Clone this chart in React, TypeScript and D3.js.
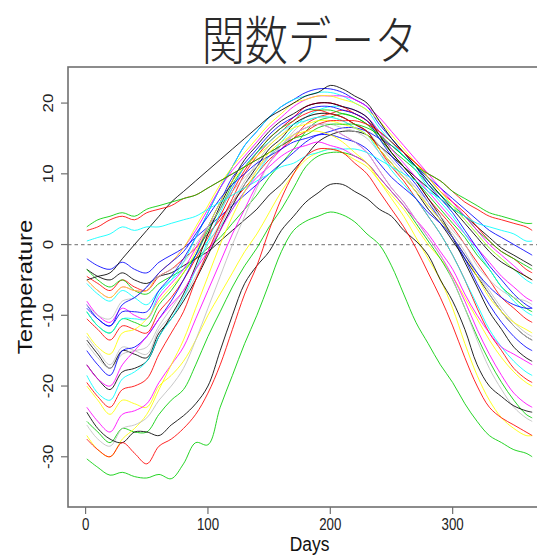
import React, { useEffect, useRef } from 'react';
import * as d3 from 'd3';

// sampled days of the year
const days = [1, 10, 20, 30, 40, 50, 60, 70, 80, 90, 100, 110, 120, 130, 140, 150, 160, 170, 180, 190,
  200, 210, 220, 230, 240, 250, 260, 270, 280, 290, 300, 310, 320, 330, 340, 350, 360, 365];

const xTicks = [0, 100, 200, 300];
const yTicks = [-30, -20, -10, 0, 10, 20];

// R default palette, cycled over stations
const palette = ['#000000', '#FF0000', '#00CD00', '#0000FF', '#00FFFF', '#FF00FF', '#FFFF00', '#BEBEBE'];

const stJohns = [-3.5, -4.5, -5, -4, -5, -5.5, -4.5, -4, -3, -2, -1, 0.5, 2, 3.5, 5, 7, 8.5, 10.5, 12.5, 14.5,
  15.5, 16, 16, 15.5, 14, 12.5, 11, 9.5, 8, 6.5, 5, 4, 2.5, 1, -0.5, -1.5, -2.5, -3];
const halifax = [-4.5, -5.5, -6.5, -5, -6, -6.5, -4.5, -3.5, -2, -0.5, 1.5, 3.5, 6, 8, 10, 12, 13.5, 15, 17, 18,
  18.5, 19, 18.5, 17.5, 16, 14.5, 13, 11.5, 9.5, 7.5, 6, 4.5, 2.5, 0.5, -1, -2, -3.5, -4];
const sydney = [-3.5, -5, -6, -5, -6.5, -7, -5.5, -4.5, -3.5, -2, -0.5, 1, 3, 5, 7, 9.5, 11.5, 13.5, 16, 17.5,
  18, 18.5, 18, 17, 15.5, 13.5, 12, 10.5, 8.5, 7, 5.5, 4, 2, 0.5, -1, -2, -3, -3.5];
const yarmouth = [-2, -3, -3.5, -2.5, -3.5, -4, -2.5, -1.5, -0.5, 1, 2.5, 4, 5.5, 7, 8.5, 10, 11.5, 13, 14.5, 15.5,
  16, 16.5, 16.5, 16, 15, 14, 12.5, 11, 9.5, 8, 6.5, 5, 3.5, 2, 1, 0, -1, -1.5];
const charlottvl = [-5.5, -7, -8, -6.5, -7.5, -8.5, -6.5, -5, -3.5, -1.5, 0.5, 2.5, 5, 7.5, 10, 12.5, 14.5, 16.5, 18, 19,
  19.5, 19.5, 19, 18, 16, 14.5, 12.5, 11, 9, 7, 5.5, 3.5, 1.5, -0.5, -2, -3.5, -5, -5.5];
const fredericton = [-8, -10, -11, -9, -10, -10.5, -7.5, -5.5, -3.5, -0.5, 2.5, 5, 8, 11, 13, 15, 16.5, 18, 19.5, 20,
  20, 19.5, 19, 18, 16, 13.5, 11.5, 9.5, 7.5, 5.5, 3.5, 1.5, -0.5, -2.5, -4.5, -6, -7.5, -8];
const scheffervll = [-20, -22, -24, -22, -22.5, -23, -20, -18.5, -16.5, -13.5, -10, -7, -4, -1, 1.5, 4.5, 7.5, 10, 12, 13,
  13.5, 13, 12, 11, 9, 7, 5, 2.5, 0, -2, -4.5, -7.5, -10.5, -13.5, -16, -18, -19.5, -20];
const arvida = [-13, -15, -17, -14.5, -15, -15.5, -12, -10, -7.5, -4.5, -1, 2.5, 6, 9, 11.5, 14, 15.5, 17, 18, 18.5,
  18.5, 18, 17, 16, 14, 12, 10, 8, 5.5, 3.5, 1, -1.5, -4, -6.5, -9, -11, -12.5, -13];
const bagottville = [-13.5, -15.5, -17.5, -15, -15.5, -16, -12.5, -10.5, -8, -5, -1.5, 2, 5.5, 8.5, 11, 13.5, 15, 17, 18, 18.5,
  18.5, 18, 17, 16, 13.5, 11.5, 9.5, 7.5, 5, 3, 0.5, -2, -4.5, -7, -9.5, -11.5, -13, -13.5];
const quebec = [-10.5, -12, -13.5, -11.5, -12, -12.5, -9.5, -7.5, -5, -2, 1, 4, 7.5, 10.5, 13, 15, 16.5, 18, 19.5, 20,
  20, 19.5, 18.5, 17.5, 15.5, 13, 11, 9, 6.5, 4.5, 2.5, 0, -2.5, -5, -7.5, -9, -10.5, -11];
const sherbrooke = [-9.5, -11.5, -12.5, -10.5, -11, -11.5, -8.5, -6.5, -4, -1.5, 2, 5, 8.5, 11, 13, 15, 16.5, 17.5, 19, 19,
  19, 18.5, 18, 17, 15, 13, 11, 9, 7, 5, 3, 1, -1.5, -3.5, -6, -7.5, -9, -9.5];
const montreal = [-8.5, -10.5, -11.5, -9.5, -9.5, -9.5, -6.5, -4.5, -2, 1, 4.5, 8, 11, 14, 16, 18, 19.5, 20.5, 21.5, 22,
  22, 21.5, 20.5, 19.5, 17, 15, 13, 11, 8.5, 6.5, 4.5, 2, -0.5, -3, -5, -7, -8.5, -9];
const ottawa = [-9.5, -11.5, -12.5, -10.5, -10.5, -10.5, -7, -5, -2.5, 1, 4.5, 8, 11, 14, 16, 18, 19.5, 20.5, 21, 21.5,
  21.5, 21, 20, 19, 16.5, 14.5, 12.5, 10.5, 8, 6, 4, 1.5, -1, -3.5, -6, -8, -9.5, -10];
const toronto = [-5, -6.5, -7.5, -6, -6.5, -6.5, -4, -2.5, -0.5, 2, 5, 8, 10.5, 12.5, 14.5, 16.5, 18, 19.5, 20.5, 21,
  21, 21, 20.5, 19.5, 18, 16, 14, 12, 10, 8, 6, 4, 2, 0, -1.5, -3, -4.5, -5];
const london = [-5, -6.5, -7.5, -6, -6.5, -6.5, -4, -2.5, -0.5, 2.5, 5.5, 8.5, 11, 13, 15, 17, 18.5, 20, 20.5, 21,
  21, 20.5, 20, 19, 17.5, 15.5, 13.5, 11.5, 9.5, 7.5, 5.5, 3.5, 1.5, -0.5, -2, -3.5, -4.5, -5];
const thunderBay = [-14, -16, -17.5, -15.5, -15, -14.5, -11.5, -9, -6.5, -3.5, 0, 3, 6, 8.5, 10.5, 12.5, 14, 16, 17.5, 18,
  18, 17.5, 16.5, 15.5, 13.5, 11.5, 9.5, 7.5, 5.5, 3.5, 1.5, -1, -4, -7, -9.5, -11.5, -13, -13.5];
const winnipeg = [-17, -19, -20.5, -18, -17.5, -16.5, -13, -10, -7, -3, 1.5, 5.5, 9, 12, 14, 16, 17.5, 18.5, 19.5, 20,
  20, 19.5, 19, 18, 15.5, 13, 11, 9, 6.5, 4, 1, -2.5, -6, -9.5, -12, -14.5, -16, -16.5];
const thePas = [-19.5, -21.5, -23, -20.5, -20, -19, -15.5, -12.5, -9.5, -5, -1, 3, 6.5, 10, 12.5, 14.5, 16, 17.5, 18.5, 19,
  18.5, 18, 17, 16, 13.5, 11, 9, 6.5, 4, 1.5, -1.5, -5, -9, -12.5, -15, -17.5, -19, -19.5];
const churchill = [-25, -26.5, -28, -26, -26.5, -26.5, -24, -22, -20.5, -17, -13, -9.5, -6, -3, -0.5, 2.5, 5, 8, 11, 12.5,
  13, 13, 12.5, 11.5, 9.5, 7.5, 5.5, 3, 0.5, -2, -5, -9, -13, -16.5, -19.5, -22, -24, -24.5];
const regina = [-15, -17, -18.5, -15, -14.5, -13, -10.5, -8, -5, -1.5, 2.5, 6, 9.5, 11.5, 13.5, 15.5, 17, 18, 19, 19.5,
  19.5, 19, 18.5, 17.5, 15, 12.5, 10.5, 8.5, 6, 3.5, 1, -2, -5.5, -8.5, -11, -13, -14.5, -15];
const prAlbert = [-18.5, -21, -22, -19, -18, -16.5, -13, -10.5, -7.5, -3.5, 0.5, 4.5, 8, 11, 13, 14.5, 16, 17, 17.5, 18,
  18, 17.5, 16.5, 15.5, 13, 10.5, 8.5, 6.5, 4, 1.5, -1.5, -5, -8.5, -12, -14.5, -16.5, -18, -18.5];
const uraniumCty = [-23, -25, -26.5, -24, -23.5, -22.5, -19.5, -17, -14.5, -10.5, -6.5, -2.5, 1.5, 5, 8.5, 11.5, 13.5, 15.5, 16.5, 17,
  16.5, 15.5, 14.5, 13, 10.5, 8, 6, 3.5, 1, -1.5, -4.5, -8, -12, -15.5, -18.5, -21, -22.5, -23];
const edmonton = [-12.5, -14.5, -15.5, -12.5, -12, -10.5, -8, -6, -4, -1, 2.5, 6, 9, 11, 12.5, 14, 15.5, 16.5, 17, 17.5,
  17.5, 17, 16.5, 15.5, 13.5, 11.5, 9.5, 7.5, 5.5, 3.5, 1, -1.5, -4.5, -7.5, -9.5, -11, -12, -12.5];
const calgary = [-8.5, -10, -10.5, -8, -7.5, -6, -4.5, -3.5, -2.5, 0, 2.5, 5, 7.5, 9.5, 11, 12.5, 14, 15.5, 16.5, 17,
  17, 16.5, 16, 15, 13, 11, 9.5, 8, 6, 4, 2, 0, -3, -5, -6.5, -7.5, -8, -8.5];
const kamloops = [-5, -4.5, -4, -2, 0, 2, 4, 6, 7.5, 9, 10.5, 12, 13.5, 15, 16.5, 18, 19, 20, 21, 21.5,
  22.5, 22, 21, 20, 17.5, 15, 13, 11, 9, 7, 5, 3, 1, -1, -2.5, -3.5, -4.5, -5];
const vancouver = [2, 2.5, 3.5, 4, 3.5, 4.5, 5, 5.5, 6.5, 7, 8, 9, 10, 11, 12, 13, 14, 15, 16, 17,
  17.5, 17.5, 17.5, 17, 16, 14.5, 13, 11.5, 10, 9, 7.5, 6, 5, 4, 3.5, 3, 2.5, 2];
const victoria = [2.5, 3.5, 4, 4.5, 4, 5, 5.5, 6, 6.5, 7, 8, 9, 10, 11, 12, 13, 14, 15, 15.5, 16.5,
  17, 17, 17, 16.5, 15.5, 14, 12.5, 11, 10, 9, 7.5, 6.5, 5.5, 4.5, 4, 3.5, 3, 3];
const prGeorge = [-9, -10.5, -11.5, -8.5, -7.5, -6, -4, -2.5, -1, 1.5, 4, 6.5, 8.5, 10, 11.5, 12.5, 13.5, 14.5, 15, 15.5,
  15.5, 15, 14.5, 13.5, 11.5, 9.5, 8, 6.5, 4.5, 3, 1, -1.5, -4, -6, -7.5, -8.5, -9, -9];
const prRupert = [0.5, 1, 1.5, 2.5, 2, 2.5, 2.5, 3, 3.5, 4, 5, 6, 7, 8, 9, 10, 11, 11.5, 12.5, 13,
  13.5, 13.5, 13.5, 13, 12, 11, 10, 9, 7.5, 6.5, 5, 4, 3, 2.5, 2, 1.5, 0.5, 0.5];
const whitehorse = [-17, -19, -20, -17, -15, -13, -10.5, -8.5, -6.5, -3.5, -1, 2, 5, 7.5, 9.5, 11, 12.5, 13.5, 14, 14.5,
  14, 13.5, 12.5, 11.5, 9.5, 7.5, 5.5, 3.5, 1.5, -1, -3.5, -7, -10, -12.5, -14.5, -15.5, -16.5, -17];
const dawson = [-27, -29, -30, -27.5, -26, -24, -20.5, -17, -13.5, -9, -4.5, 0, 4, 7.5, 10.5, 13, 14.5, 15.5, 16, 16,
  15.5, 14.5, 13, 11.5, 9, 6.5, 4, 1, -2, -5, -9, -14, -18.5, -22, -24.5, -26, -27, -27];
const yellowknife = [-25.5, -27.5, -28.5, -26, -25.5, -24.5, -22, -20, -17.5, -13.5, -9, -4.5, 0, 4, 8, 11.5, 14, 15.5, 16.5, 17,
  16.5, 15.5, 14.5, 13, 10.5, 8, 6, 3.5, 1, -1.5, -5, -9, -13.5, -17.5, -20.5, -23, -24.5, -25];
const iqaluit = [-23.7, -26, -27.5, -28, -26.5, -26.5, -27, -25.5, -24.2, -22.5, -20, -15, -10, -5.5, -3, -1, 2, 4, 6, 7.3,
  8.5, 8.5, 7.5, 6.5, 5, 4, 2, 0.5, -1.5, -5, -8, -12, -17, -20, -21.5, -22.8, -23.5, -23.7];
const inuvik = [-27.5, -29, -30, -28, -29.5, -31, -28.5, -27.5, -26, -24, -21, -17, -12, -7, -3, 2, 6.5, 10, 12.5, 13.5,
  13.5, 13, 11.5, 10, 7.5, 5, 2.5, -0.5, -4, -7.5, -11.5, -16, -20, -23, -24.5, -25.5, -26.5, -27];
const resolute = [-30.3, -31.5, -32.6, -32.2, -32.8, -33, -32.5, -33.1, -31, -28, -28.3, -23, -18.5, -14, -10, -5.5, -1, 2, 3.3, 4,
  4.6, 4.2, 3.2, 1.5, 0, -3, -7, -11, -14, -17, -19.5, -22.5, -25, -27, -28, -29, -29.5, -30];

const stations = [stJohns, halifax, sydney, yarmouth, charlottvl, fredericton, scheffervll, arvida,
  bagottville, quebec, sherbrooke, montreal, ottawa, toronto, london, thunderBay, winnipeg, thePas,
  churchill, regina, prAlbert, uraniumCty, edmonton, calgary, kamloops, vancouver, victoria, prGeorge,
  prRupert, whitehorse, dawson, yellowknife, iqaluit, inuvik, resolute];

const W = 537;
const H = 556;
const SQ = 0.83; // the picture is squeezed horizontally

const App = () => {
  const svgRef = useRef<SVGSVGElement>(null);

  useEffect(() => {
    const svg = d3.select(svgRef.current);
    svg.selectAll('*').remove();

    const left = 68, right = 551, top = 67, bottom = 507;
    // R style 4% padding around the day range
    const x = d3.scaleLinear().domain([1 - 14.56, 365 + 14.56]).range([left + 1, right - 1]);
    const y = d3.scaleLinear().domain([-37.1, 25.1]).range([bottom, top]);

    // zero reference line
    svg.append('line')
      .attr('x1', left).attr('x2', right)
      .attr('y1', y(0)).attr('y2', y(0))
      .attr('stroke', '#8a8a8a').attr('stroke-width', 1.2)
      .attr('stroke-dasharray', '3.5,3');

    const line = d3.line<number>()
      .x((d, i) => x(days[i]))
      .y(d => y(d))
      .curve(d3.curveCatmullRom.alpha(0.5));

    svg.append('g')
      .selectAll('path')
      .data(stations)
      .enter()
      .append('path')
      .attr('d', d => line(d))
      .attr('fill', 'none')
      .attr('stroke', (d, i) => palette[i % palette.length])
      .attr('stroke-width', 1)
      .attr('stroke-opacity', 0.85);

    // box
    svg.append('rect')
      .attr('x', left).attr('y', top)
      .attr('width', right - left).attr('height', bottom - top)
      .attr('fill', 'none').attr('stroke', '#707070').attr('stroke-width', 1.6);

    // bottom axis
    const gx = svg.append('g');
    xTicks.forEach(t => {
      gx.append('line')
        .attr('x1', x(t)).attr('x2', x(t))
        .attr('y1', bottom).attr('y2', bottom + 7)
        .attr('stroke', '#707070').attr('stroke-width', 1.2);
      gx.append('g')
        .attr('transform', `translate(${x(t)},530) scale(${SQ},1)`)
        .append('text')
        .attr('text-anchor', 'middle')
        .attr('font-family', 'Liberation Sans, Arial, sans-serif')
        .attr('font-size', 16)
        .attr('fill', '#222')
        .text(t);
    });

    // left axis
    const gy = svg.append('g');
    yTicks.forEach(t => {
      gy.append('line')
        .attr('x1', left).attr('x2', left - 7)
        .attr('y1', y(t)).attr('y2', y(t))
        .attr('stroke', '#707070').attr('stroke-width', 1.2);
      gy.append('g')
        .attr('transform', `translate(53,${y(t)}) rotate(-90) scale(1,${SQ})`)
        .append('text')
        .attr('text-anchor', 'middle')
        .attr('font-family', 'Liberation Sans, Arial, sans-serif')
        .attr('font-size', 17)
        .attr('fill', '#222')
        .text(t);
    });

    // axis titles
    svg.append('g')
      .attr('transform', `translate(${(left + right) / 2},551) scale(${SQ},1)`)
      .append('text')
      .attr('text-anchor', 'middle')
      .attr('font-family', 'Liberation Sans, Arial, sans-serif')
      .attr('font-size', 21)
      .attr('fill', '#111')
      .text('Days');

    svg.append('g')
      .attr('transform', `translate(32,${(top + bottom) / 2}) rotate(-90) scale(1,${SQ})`)
      .append('text')
      .attr('text-anchor', 'middle')
      .attr('font-family', 'Liberation Sans, Arial, sans-serif')
      .attr('font-size', 24)
      .attr('fill', '#111')
      .text('Temperature');

    // title
    svg.append('g')
      .attr('transform', `translate(${(left + right) / 2},60) scale(0.83,1)`)
      .append('text')
      .attr('text-anchor', 'middle')
      .attr('font-family', 'Noto Sans CJK JP, sans-serif')
      .attr('font-weight', 300)
      .attr('font-size', 52)
      .attr('fill', '#2a2a2a')
      .text('関数データ');
  }, []);

  return (
    <svg
      ref={svgRef}
      width={W}
      height={H}
      style={{ position: 'absolute', left: 0, top: 0, background: '#fff', display: 'block' }}
    />
  );
};

export default App;
